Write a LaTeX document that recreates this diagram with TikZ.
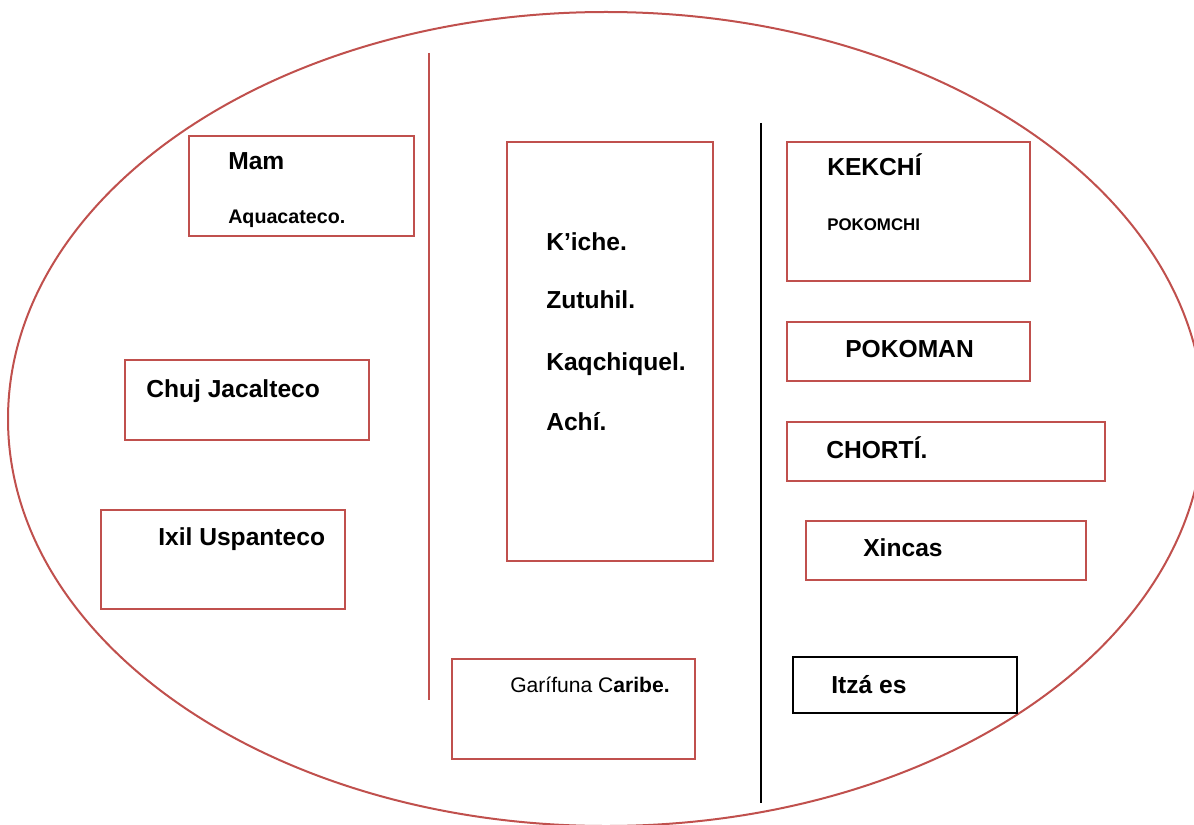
\documentclass[tikz,border=0pt]{standalone}
\usepackage{fontspec}
\setmainfont{Liberation Sans}
\definecolor{accred}{HTML}{C0504D}
\begin{document}
\begin{tikzpicture}[x=0.25mm,y=-0.25mm,
    box/.style={draw=accred,line width=0.5mm},
    lbl/.style={anchor=base west,inner sep=0pt,font=\fontsize{17.5}{20}\selectfont\bfseries}]
\useasboundingbox (0,0) rectangle (1194,825);
\clip (0,0) rectangle (1194,825);
\draw[accred,line width=0.5mm] (606,419) ellipse [x radius=598, y radius=407];
% dividing lines
\coordinate (redtop) at (429,53);
\coordinate (redbot) at (429,700);
\coordinate (blktop) at (761,123);
\coordinate (blkbot) at (761,803);
\draw[accred,line width=0.5mm] (redtop) -- (redbot);
\draw[black,line width=0.5mm] (blktop) -- (blkbot);
% boxes
\foreach \xa/\ya/\xb/\yb in {189/136/414/236, 507/142/713/561, 125/360/369/440,
    101/510/345/609, 452/659/695/759, 787/142/1030/281, 787/322/1030/381,
    787/422/1105/481, 806/521/1086/580}
    \draw[box] (\xa,\ya) rectangle (\xb,\yb);
\draw[black,line width=0.5mm] (793,657) rectangle (1017,713);
% labels
\node[lbl] (mam) at (228,170) {Mam};
\node[lbl,font=\fontsize{14}{16}\selectfont\bfseries] (aqua) at (228,224) {Aquacateco.};
\node[lbl] (kiche) at (546,250) {K’iche.};
\node[lbl] (zutu) at (546,308) {Zutuhil.};
\node[lbl] (kaq) at (546,370) {Kaqchiquel.};
\node[lbl] (achi) at (546,430) {Achí.};
\node[lbl] (chuj) at (146,397) {Chuj Jacalteco};
\node[lbl] (ixil) at (158,545) {Ixil Uspanteco};
\node[lbl,font=\fontsize{15}{17}\selectfont] (gari) at (510,692) {Garífuna C\textbf{aribe.}};
\node[lbl] (kek) at (827,176) {KEKCHÍ};
\node[lbl,font=\fontsize{12}{14}\selectfont\bfseries] (pokc) at (827,230) {POKOMCHI};
\node[lbl] (poka) at (845,357) {POKOMAN};
\node[lbl] (chor) at (826,458) {CHORTÍ.};
\node[lbl] (xin) at (863,556) {Xincas};
\node[lbl] (itza) at (831,693) {Itzá es};
\end{tikzpicture}
\end{document}
